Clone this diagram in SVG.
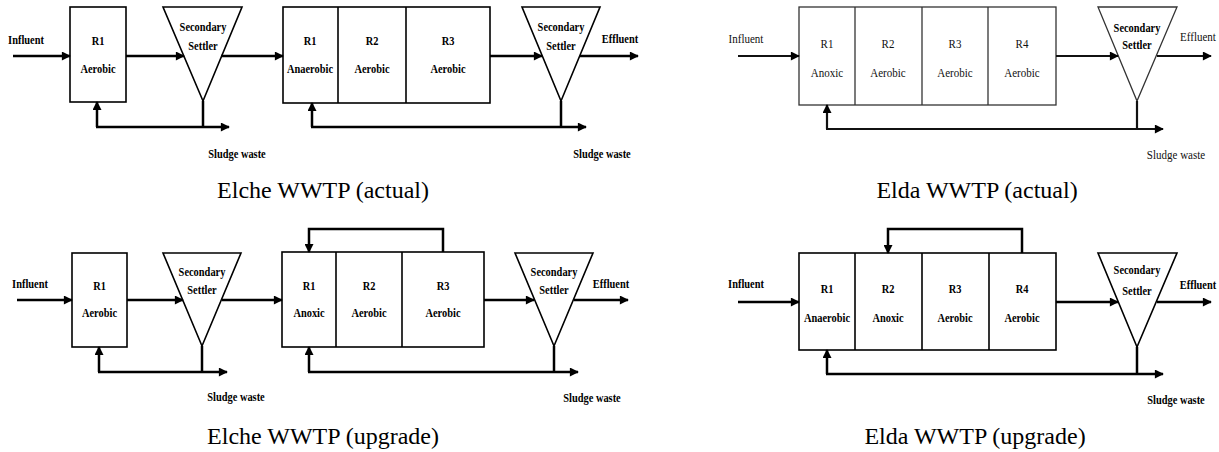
<svg xmlns="http://www.w3.org/2000/svg" width="1219" height="452" viewBox="0 0 1219 452">
<style>
.bg{fill:#fff}
.box{fill:#fff;stroke:#000;stroke-width:1.6}
.boxl{fill:#fff;stroke:#333;stroke-width:1.3}
.ln{fill:none;stroke:#000;stroke-width:2.5}
.lnl{fill:none;stroke:#111;stroke-width:2.2}
.lb{font-family:"Liberation Serif","Times New Roman",serif;font-size:13px;font-weight:bold;text-anchor:middle;fill:#000}
.lr{font-family:"Liberation Serif","Times New Roman",serif;font-size:12.5px;text-anchor:middle;fill:#111}
.cap{font-family:"Liberation Serif","Times New Roman",serif;font-size:24px;text-anchor:middle;fill:#000}
</style>
<defs>
<marker id="ah" viewBox="0 0 10 10" refX="9" refY="5" markerUnits="userSpaceOnUse" markerWidth="10" markerHeight="9" orient="auto">
<path d="M0,0 L10,5 L0,10 z" fill="#000"/>
</marker>
</defs>
<rect class="bg" x="0" y="0" width="1219" height="452"/>

<!-- ===== Elche WWTP (actual) ===== -->
<g id="elche-actual-influent"><text class="lb" transform="translate(26 44) scale(0.8 1)">Influent</text></g>
<g id="elche-actual-r1">
<rect class="box" x="70" y="7" width="56" height="95"/>
<text class="lb" transform="translate(98 45) scale(0.8 1)">R1</text>
<text class="lb" transform="translate(98 73) scale(0.8 1)">Aerobic</text>
</g>
<g id="elche-actual-settler1">
<polygon class="box" points="163,7 242,7 203,101"/>
<text class="lb" transform="translate(203 31) scale(0.8 1)">Secondary</text>
<text class="lb" transform="translate(203 50) scale(0.8 1)">Settler</text>
</g>
<g id="elche-actual-reactors">
<rect class="box" x="283" y="7" width="207" height="96"/>
<line class="box" x1="338" y1="7" x2="338" y2="103"/>
<line class="box" x1="406" y1="7" x2="406" y2="103"/>
<text class="lb" transform="translate(310 45) scale(0.8 1)">R1</text>
<text class="lb" transform="translate(310 73) scale(0.8 1)">Anaerobic</text>
<text class="lb" transform="translate(372 45) scale(0.8 1)">R2</text>
<text class="lb" transform="translate(372 73) scale(0.8 1)">Aerobic</text>
<text class="lb" transform="translate(448 45) scale(0.8 1)">R3</text>
<text class="lb" transform="translate(448 73) scale(0.8 1)">Aerobic</text>
</g>
<g id="elche-actual-settler2">
<polygon class="box" points="522,7 600,7 561,101"/>
<text class="lb" transform="translate(561 31) scale(0.8 1)">Secondary</text>
<text class="lb" transform="translate(561 50) scale(0.8 1)">Settler</text>
</g>
<g id="elche-actual-labels">
<text class="lb" transform="translate(620 43) scale(0.8 1)">Effluent</text>
<text class="lb" transform="translate(237 158) scale(0.8 1)">Sludge waste</text>
<text class="lb" transform="translate(602 158) scale(0.8 1)">Sludge waste</text>
<text class="cap" x="323" y="198">Elche WWTP (actual)</text>
</g>

<!-- ===== Elda WWTP (actual) ===== -->
<g id="elda-actual-influent"><text class="lr" transform="translate(746 43) scale(0.88 1)">Influent</text></g>
<g id="elda-actual-reactors">
<rect class="boxl" x="799" y="7" width="257" height="98"/>
<line class="boxl" x1="855" y1="7" x2="855" y2="105"/>
<line class="boxl" x1="922" y1="7" x2="922" y2="105"/>
<line class="boxl" x1="988" y1="7" x2="988" y2="105"/>
<text class="lr" transform="translate(827 48) scale(0.88 1)">R1</text>
<text class="lr" transform="translate(827 77) scale(0.88 1)">Anoxic</text>
<text class="lr" transform="translate(888 48) scale(0.88 1)">R2</text>
<text class="lr" transform="translate(888 77) scale(0.88 1)">Aerobic</text>
<text class="lr" transform="translate(955 48) scale(0.88 1)">R3</text>
<text class="lr" transform="translate(955 77) scale(0.88 1)">Aerobic</text>
<text class="lr" transform="translate(1022 48) scale(0.88 1)">R4</text>
<text class="lr" transform="translate(1022 77) scale(0.88 1)">Aerobic</text>
</g>
<g id="elda-actual-settler">
<polygon class="boxl" points="1098,7 1177,7 1137,101"/>
<text class="lb" transform="translate(1137 32) scale(0.8 1)">Secondary</text>
<text class="lb" transform="translate(1137 49) scale(0.8 1)">Settler</text>
</g>
<g id="elda-actual-labels">
<text class="lr" transform="translate(1198 41) scale(0.88 1)">Effluent</text>
<text class="lr" transform="translate(1176 159) scale(0.88 1)">Sludge waste</text>
<text class="cap" x="977" y="198">Elda WWTP (actual)</text>
</g>

<!-- ===== Elche WWTP (upgrade) ===== -->
<g id="elche-upgrade-influent"><text class="lb" transform="translate(30 288) scale(0.8 1)">Influent</text></g>
<g id="elche-upgrade-r1">
<rect class="box" x="72" y="253" width="55" height="94"/>
<text class="lb" transform="translate(99.5 290) scale(0.8 1)">R1</text>
<text class="lb" transform="translate(99.5 317) scale(0.8 1)">Aerobic</text>
</g>
<g id="elche-upgrade-settler1">
<polygon class="box" points="163,253 241,253 202,346"/>
<text class="lb" transform="translate(202 276) scale(0.8 1)">Secondary</text>
<text class="lb" transform="translate(202 294) scale(0.8 1)">Settler</text>
</g>
<g id="elche-upgrade-reactors">
<rect class="box" x="282" y="252" width="202" height="95"/>
<line class="box" x1="336" y1="252" x2="336" y2="347"/>
<line class="box" x1="402" y1="252" x2="402" y2="347"/>
<text class="lb" transform="translate(309 290) scale(0.8 1)">R1</text>
<text class="lb" transform="translate(309 317) scale(0.8 1)">Anoxic</text>
<text class="lb" transform="translate(369 290) scale(0.8 1)">R2</text>
<text class="lb" transform="translate(369 317) scale(0.8 1)">Aerobic</text>
<text class="lb" transform="translate(443 290) scale(0.8 1)">R3</text>
<text class="lb" transform="translate(443 317) scale(0.8 1)">Aerobic</text>
</g>
<g id="elche-upgrade-settler2">
<polygon class="box" points="515,253 593,253 554,346"/>
<text class="lb" transform="translate(554 276) scale(0.8 1)">Secondary</text>
<text class="lb" transform="translate(554 294) scale(0.8 1)">Settler</text>
</g>
<g id="elche-upgrade-labels">
<text class="lb" transform="translate(611 288) scale(0.8 1)">Effluent</text>
<text class="lb" transform="translate(236 401) scale(0.8 1)">Sludge waste</text>
<text class="lb" transform="translate(592 402) scale(0.8 1)">Sludge waste</text>
<text class="cap" x="323" y="444">Elche WWTP (upgrade)</text>
</g>

<!-- ===== Elda WWTP (upgrade) ===== -->
<g id="elda-upgrade-influent"><text class="lb" transform="translate(746 288) scale(0.8 1)">Influent</text></g>
<g id="elda-upgrade-reactors">
<rect class="box" x="799" y="253" width="257" height="97"/>
<line class="box" x1="855" y1="253" x2="855" y2="350"/>
<line class="box" x1="922" y1="253" x2="922" y2="350"/>
<line class="box" x1="989" y1="253" x2="989" y2="350"/>
<text class="lb" transform="translate(827 293) scale(0.8 1)">R1</text>
<text class="lb" transform="translate(827 322) scale(0.8 1)">Anaerobic</text>
<text class="lb" transform="translate(888 293) scale(0.8 1)">R2</text>
<text class="lb" transform="translate(888 322) scale(0.8 1)">Anoxic</text>
<text class="lb" transform="translate(955 293) scale(0.8 1)">R3</text>
<text class="lb" transform="translate(955 322) scale(0.8 1)">Aerobic</text>
<text class="lb" transform="translate(1022 293) scale(0.8 1)">R4</text>
<text class="lb" transform="translate(1022 322) scale(0.8 1)">Aerobic</text>
</g>
<g id="elda-upgrade-settler">
<polygon class="box" points="1098,253 1177,253 1137,347"/>
<text class="lb" transform="translate(1137 274) scale(0.8 1)">Secondary</text>
<text class="lb" transform="translate(1137 295) scale(0.8 1)">Settler</text>
</g>
<g id="elda-upgrade-labels">
<text class="lb" transform="translate(1198 289) scale(0.8 1)">Effluent</text>
<text class="lb" transform="translate(1176 404) scale(0.8 1)">Sludge waste</text>
<text class="cap" x="975" y="444">Elda WWTP (upgrade)</text>
</g>

<!-- ===== Connectors ===== -->
<g id="connectors">
<!-- Elche actual -->
<path class="ln" d="M13 56 H70" marker-end="url(#ah)"/>
<path class="ln" d="M126 56 H184" marker-end="url(#ah)"/>
<path class="ln" d="M221 56 H283" marker-end="url(#ah)"/>
<path class="ln" d="M203 101 V127"/>
<path class="ln" d="M96 127 H229" marker-end="url(#ah)"/>
<path class="ln" d="M97 127 V102" marker-end="url(#ah)"/>
<path class="ln" d="M490 56 H542" marker-end="url(#ah)"/>
<path class="ln" d="M580 56 H638" marker-end="url(#ah)"/>
<path class="ln" d="M561 101 V127"/>
<path class="ln" d="M311 127 H586" marker-end="url(#ah)"/>
<path class="ln" d="M312 127 V103" marker-end="url(#ah)"/>
<!-- Elda actual -->
<path class="lnl" d="M738 56 H799" marker-end="url(#ah)"/>
<path class="lnl" d="M1056 56 H1118" marker-end="url(#ah)"/>
<path class="lnl" d="M1157 56 H1211" marker-end="url(#ah)"/>
<path class="lnl" d="M1137 101 V129"/>
<path class="lnl" d="M826 129 H1163" marker-end="url(#ah)"/>
<path class="lnl" d="M827 129 V105" marker-end="url(#ah)"/>
<!-- Elche upgrade -->
<path class="ln" d="M17 300 H72" marker-end="url(#ah)"/>
<path class="ln" d="M127 300 H183" marker-end="url(#ah)"/>
<path class="ln" d="M222 300 H282" marker-end="url(#ah)"/>
<path class="ln" d="M202 346 V372"/>
<path class="ln" d="M98 372 H227" marker-end="url(#ah)"/>
<path class="ln" d="M99 372 V347" marker-end="url(#ah)"/>
<path class="ln" d="M443 252 V229 H309 V252" marker-end="url(#ah)"/>
<path class="ln" d="M484 300 H534" marker-end="url(#ah)"/>
<path class="ln" d="M574 300 H628" marker-end="url(#ah)"/>
<path class="ln" d="M554 346 V372"/>
<path class="ln" d="M308 372 H578" marker-end="url(#ah)"/>
<path class="ln" d="M309 372 V347" marker-end="url(#ah)"/>
<!-- Elda upgrade -->
<path class="ln" d="M738 302 H799" marker-end="url(#ah)"/>
<path class="ln" d="M1022 253 V229 H888 V253" marker-end="url(#ah)"/>
<path class="ln" d="M1056 302 H1118" marker-end="url(#ah)"/>
<path class="ln" d="M1157 302 H1211" marker-end="url(#ah)"/>
<path class="ln" d="M1137 347 V374"/>
<path class="ln" d="M826 374 H1163" marker-end="url(#ah)"/>
<path class="ln" d="M827 374 V350" marker-end="url(#ah)"/>
</g>
</svg>
